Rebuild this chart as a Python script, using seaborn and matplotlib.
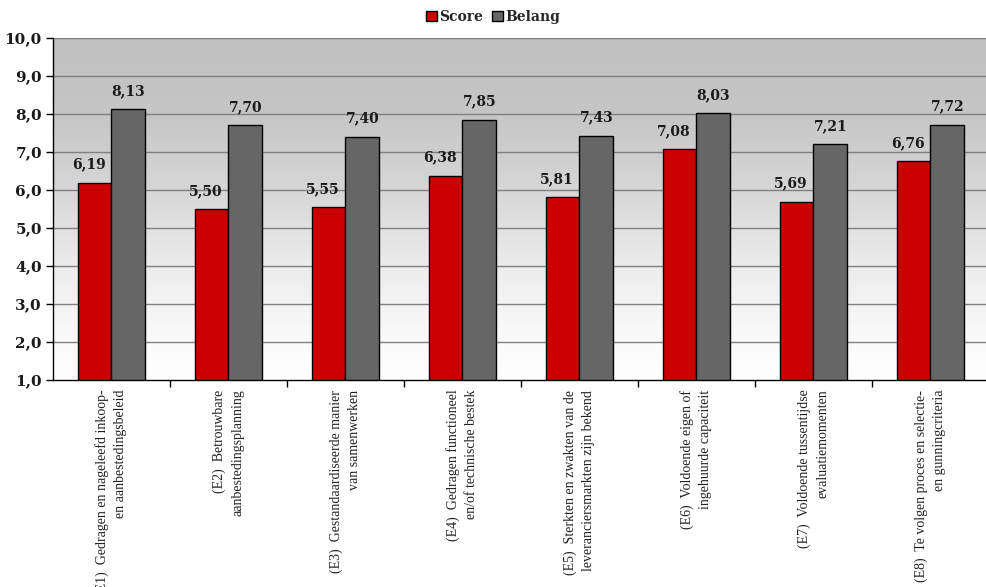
import numpy as np
import pandas as pd
import matplotlib
matplotlib.use("Agg")
import matplotlib.pyplot as plt
import seaborn as sns
from matplotlib.ticker import FixedLocator, FuncFormatter
from matplotlib.colors import LinearSegmentedColormap

# Chart data
categories = [
    "(E1)  Gedragen en nageleefd inkoop-\nen aanbestedingsbeleid",
    "(E2)  Betrouwbare\naanbestedingsplanning",
    "(E3)  Gestandaardiseerde manier\nvan samenwerken",
    "(E4)  Gedragen functioneel\nen/of technische bestek",
    "(E5)  Sterkten en zwakten van de\nleveranciersmarkten zijn bekend",
    "(E6)  Voldoende eigen of\ningehuurde capaciteit",
    "(E7)  Voldoende tussentijdse\nevaluatiemomenten",
    "(E8)  Te volgen proces en selectie-\nen gunningcriteria",
]
score = [6.19, 5.50, 5.55, 6.38, 5.81, 7.08, 5.69, 6.76]
belang = [8.13, 7.70, 7.40, 7.85, 7.43, 8.03, 7.21, 7.72]
series_names = ["Score", "Belang"]
y_ticks = [1, 2, 3, 4, 5, 6, 7, 8, 9, 10]

df = pd.DataFrame({
    "categorie": categories * 2,
    "reeks": [series_names[0]] * len(categories) + [series_names[1]] * len(categories),
    "waarde": score + belang,
})

sns.set_theme(style="white")
plt.rcParams["font.family"] = ["DejaVu Serif"]

fig = plt.figure(figsize=(9.87, 5.87), dpi=100)
ax = fig.add_axes([53 / 987, 207 / 587, 936 / 987, 342 / 587])

palette = {"Score": "#CC0000", "Belang": "#666666"}
sns.barplot(data=df, x="categorie", y="waarde", hue="reeks", palette=palette,
            width=0.58, edgecolor="black", linewidth=1.0, saturation=1,
            ax=ax, zorder=3, legend=True)

ax.set_ylim(1, 10)
ax.set_xlim(-0.5, len(categories) - 0.5)

# Vertical grey-to-white background gradient
grad = np.linspace(0, 1, 256).reshape(-1, 1)
cmap = LinearSegmentedColormap.from_list(
    "bg",
    [(0.0, "#FFFFFF"), (0.11, "#FBFBFB"), (0.33, "#ECECEC"),
     (0.56, "#D6D6D6"), (0.78, "#C6C6C6"), (1.0, "#C0C0C0")])
ax.imshow(grad, cmap=cmap, aspect="auto", origin="lower",
          extent=(-0.5, len(categories) - 0.5, 1, 10), zorder=0)

# Grid lines
ax.yaxis.set_major_locator(FixedLocator(y_ticks))
ax.yaxis.set_major_formatter(FuncFormatter(lambda v, p: f"{v:.1f}".replace(".", ",")))
for t in y_ticks[1:]:
    ax.axhline(t, color="#808080", linewidth=1.0, zorder=1)

# Value labels (score labels sit slightly left of their bars)
for i, container in enumerate(ax.containers):
    labels = [f"{b.get_height():.2f}".replace(".", ",") for b in container]
    anns = ax.bar_label(container, labels=labels, padding=8, fontsize=10,
                        fontweight="bold", color="#1a1a1a")
    if i == 0:
        for a in anns:
            a.xyann = (-4, 8)

# Axes styling
for side in ["top", "right"]:
    ax.spines[side].set_visible(False)
for side in ["left", "bottom"]:
    ax.spines[side].set_color("black")
    ax.spines[side].set_linewidth(1.0)
    ax.spines[side].set_zorder(4)

ax.tick_params(axis="y", which="major", direction="out", length=5, width=1,
               color="black", labelsize=11, pad=3, left=True)
for lbl in ax.get_yticklabels():
    lbl.set_fontweight("bold")
    lbl.set_color("#1a1a1a")

ax.set_xticks(range(len(categories)))
ax.set_xticklabels(categories, rotation=90, ha="center", va="top",
                   multialignment="right", fontsize=10,
                   family="Liberation Serif", linespacing=1.5, color="#222222")
ax.tick_params(axis="x", which="major", length=0, pad=7)
ax.xaxis.set_minor_locator(FixedLocator(np.arange(0.5, len(categories) - 0.5, 1)))
ax.tick_params(axis="x", which="minor", direction="out", length=5, width=1,
               color="black", bottom=True)

ax.set_xlabel("")
ax.set_ylabel("")

# Legend at the top
handles, labels = ax.get_legend_handles_labels()
ax.get_legend().remove()
fig.legend(handles, labels, loc="center", bbox_to_anchor=(493 / 987, 1 - 17 / 587),
           ncol=2, frameon=False, prop={"weight": "bold", "size": 10},
           handlelength=0.8, handleheight=0.8, handletextpad=0.2,
           columnspacing=0.6, borderaxespad=0)

fig.savefig("out.png", dpi=100)
